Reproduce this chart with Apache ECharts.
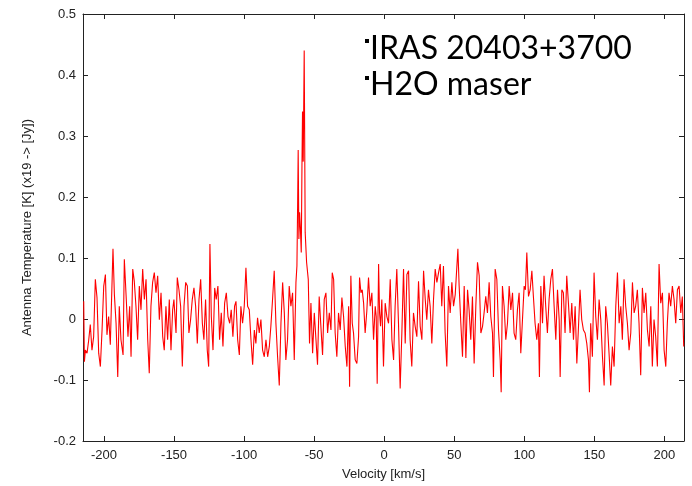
<!DOCTYPE html>
<html>
<head>
<meta charset="utf-8">
<script src="https://cdn.jsdelivr.net/npm/echarts@6/dist/echarts.min.js"></script>
<style>
html,body{margin:0;padding:0;background:#fff;}
#chart{width:692px;height:486px;}
</style>
</head>
<body>
<div id="chart"></div>
<script>
// Velocity [km/s] of each channel
const velocity = [
-214.5,-214.0,-213.3,-212.1,-210.9,-209.8,-208.6,-207.4,-206.2,-205.0,
-203.8,-202.6,-201.4,-200.2,-199.0,-197.9,-196.7,-195.5,-193.6,-192.6,
-191.4,-190.2,-189.1,-187.9,-186.4,-185.5,-184.1,-182.9,-181.7,-180.7,
-179.5,-178.4,-177.2,-176.0,-174.8,-173.6,-172.4,-171.2,-170.0,-168.8,
-167.7,-166.5,-165.3,-164.1,-162.9,-161.7,-160.5,-159.3,-158.1,-157.0,
-155.8,-154.6,-153.4,-152.2,-151.0,-150.1,-148.6,-147.7,-146.5,-145.3,
-144.1,-142.9,-141.7,-140.5,-139.4,-138.2,-137.0,-135.8,-134.6,-133.4,
-132.2,-131.0,-129.8,-128.7,-127.5,-126.3,-125.3,-124.4,-123.4,-122.2,
-121.0,-119.9,-118.7,-117.5,-116.3,-115.1,-113.9,-112.7,-111.5,-110.3,
-109.2,-108.0,-106.8,-105.8,-104.6,-103.4,-102.3,-101.1,-99.9,-98.7,
-97.5,-96.3,-95.1,-93.9,-92.7,-91.6,-90.4,-89.2,-88.0,-86.8,
-85.6,-84.4,-83.2,-82.0,-80.9,-79.7,-78.5,-77.3,-76.1,-74.9,
-73.7,-72.5,-71.3,-70.2,-69.0,-67.8,-66.6,-65.4,-64.2,-63.0,
-62.3,-61.8,-61.4,-60.9,-60.4,-59.9,-59.2,-58.7,-58.3,-57.8,
-57.1,-56.4,-55.4,-54.2,-53.3,-52.3,-51.1,-49.9,-48.7,-47.6,
-46.4,-45.2,-44.0,-42.8,-41.6,-40.4,-39.2,-38.0,-37.1,-36.1,
-35.0,-33.8,-32.6,-31.4,
-30.2,-29.0,-27.8,-26.6,-25.4,-24.7,-23.8,-22.8,-21.9,-20.7,
-19.5,-18.3,-17.6,-16.6,-15.7,-14.7,-13.6,-12.4,-11.2,-10.0,
-8.8,-7.6,-6.4,-5.7,-5.0,-4.0,-3.3,-2.6,-1.7,-0.5,
0.7,1.9,3.1,4.3,5.5,6.7,7.8,9.0,10.2,11.4,
12.6,13.8,15.0,16.2,17.4,18.5,19.7,20.9,22.1,23.3,
24.5,25.7,26.9,28.1,29.3,30.4,31.6,32.8,34.0,35.2,
36.4,37.6,38.8,40.0,41.1,42.3,43.5,44.7,45.9,47.1,
48.3,49.5,50.7,51.8,52.6,53.5,54.7,55.9,57.1,58.3,
59.5,60.6,61.8,63.0,64.2,65.4,66.6,67.8,69.0,70.2,
71.3,72.5,73.7,74.9,76.1,77.3,78.0,79.2,80.4,81.6,
82.8,83.5,84.4,85.6,86.8,88.0,89.2,90.4,91.6,92.7,
93.9,95.1,96.3,97.5,98.7,99.9,100.8,101.8,103.0,104.2,
105.4,106.5,107.7,108.9,110.1,110.8,111.8,113.0,114.1,115.3,
116.5,117.7,118.9,120.1,121.3,122.5,123.7,124.9,125.6,126.8,
127.9,129.1,130.3,131.5,132.7,133.9,135.1,136.3,137.5,138.7,
139.8,141.0,142.2,143.4,144.6,145.8,146.5,147.4,148.6,149.8,
151.0,152.2,153.4,154.6,155.8,157.0,158.1,159.3,160.5,161.7,
162.9,164.1,165.3,166.5,167.7,168.9,170.0,171.2,172.4,173.6,
174.8,176.0,177.2,178.4,179.5,180.7,181.9,183.1,184.3,185.5,
186.7,187.9,189.1,190.3,191.4,192.6,193.8,195.0,196.2,197.4,
198.6,199.8,201.0,202.1,203.3,204.5,205.7,206.9,208.1,209.3,
210.5,211.7,212.8,213.8
];

// Antenna temperature [K] at each velocity
const antennaTemp = [
0.029,-0.070,-0.051,-0.056,-0.034,-0.009,-0.051,-0.029,0.065,0.035,
-0.056,-0.078,-0.018,0.054,0.073,-0.026,0.004,-0.042,0.115,0.040,
-0.007,-0.095,0.021,-0.034,-0.059,0.098,0.032,-0.029,0.021,-0.062,
0.082,0.062,0.021,-0.034,0.054,0.015,0.082,0.032,0.065,-0.034,
-0.089,0.021,0.060,0.076,0.043,0.071,-0.001,0.043,-0.029,-0.051,
0.021,-0.034,0.032,-0.051,0.015,0.032,-0.023,0.068,0.048,0.021,
-0.078,0.021,0.060,0.054,-0.023,-0.001,0.032,0.051,0.021,-0.040,
0.032,0.065,-0.007,-0.034,0.032,-0.051,-0.078,0.123,0.004,-0.051,
0.051,0.032,0.054,-0.034,0.010,-0.045,0.026,0.043,0.004,-0.007,
0.015,-0.029,0.021,0.029,-0.034,-0.059,0.021,-0.007,0.021,0.084,
0.021,0.015,-0.034,-0.075,-0.018,-0.040,0.002,-0.023,-0.001,-0.051,
-0.062,-0.034,-0.062,-0.045,-0.012,0.032,0.079,-0.007,-0.062,-0.109,
-0.007,0.060,0.010,-0.067,-0.034,0.054,0.021,0.043,-0.067,0.060,
0.087,0.186,0.277,0.131,0.175,0.153,0.109,0.252,0.340,0.258,
0.440,0.142,0.093,0.065,-0.040,0.026,-0.056,0.010,-0.034,-0.075,
0.037,-0.012,-0.059,0.032,0.043,-0.023,0.010,-0.018,0.076,0.065,
-0.023,-0.062,0.010,-0.018,
0.035,0.004,-0.045,-0.078,0.021,-0.111,0.071,-0.007,-0.023,-0.067,
-0.073,-0.029,0.068,0.043,0.048,0.026,-0.023,0.013,0.068,0.021,
0.043,-0.034,0.021,0.004,-0.106,0.090,0.010,-0.012,0.032,-0.078,
0.026,0.004,-0.007,0.065,-0.034,-0.067,0.021,0.082,-0.007,-0.114,
-0.023,0.082,-0.040,0.073,0.079,-0.034,-0.078,0.010,-0.012,-0.029,
0.062,-0.012,-0.034,0.079,0.032,-0.001,0.048,0.021,-0.040,0.032,
0.082,0.060,0.076,0.090,0.021,0.087,-0.023,-0.078,0.054,0.010,
0.060,0.021,0.040,0.043,0.115,0.054,-0.007,-0.062,0.054,-0.064,
0.048,0.015,-0.034,0.037,-0.073,0.021,0.093,0.071,-0.023,-0.012,
0.010,0.037,0.010,0.060,0.004,-0.023,-0.095,0.082,0.065,-0.018,
-0.067,-0.120,0.054,0.021,-0.034,-0.007,0.054,0.015,0.043,-0.023,
-0.034,0.015,0.043,-0.056,-0.001,0.054,0.048,0.109,0.037,0.048,
0.079,0.037,-0.007,-0.034,-0.007,-0.095,0.054,-0.007,0.071,0.021,
-0.023,0.032,0.065,0.082,0.021,-0.034,0.048,-0.001,-0.095,0.048,
0.043,-0.023,0.071,0.026,-0.023,0.026,-0.034,0.021,-0.073,-0.012,
0.048,-0.001,-0.018,-0.023,-0.040,-0.067,-0.120,-0.007,-0.062,0.076,
0.004,-0.034,0.032,-0.001,-0.062,-0.109,0.021,-0.007,-0.056,-0.109,
-0.045,-0.078,0.021,0.076,-0.007,0.021,-0.034,0.065,0.021,-0.007,
-0.051,-0.023,0.060,0.010,0.021,0.048,-0.007,-0.092,0.051,0.010,
0.043,-0.018,-0.045,0.021,-0.078,-0.001,-0.029,-0.078,0.090,0.026,
0.043,-0.051,-0.078,-0.007,0.043,0.021,0.054,0.032,-0.007,0.048,
0.054,0.010,0.037,-0.045
];

// Axis tick labels
const velocityTicks = [-200, -150, -100, -50, 0, 50, 100, 150, 200];
const tempTicks = [-0.2, -0.1, 0, 0.1, 0.2, 0.3, 0.4, 0.5];

const titleLines = ['IRAS 20403+3700', 'H2O maser'];
const xName = 'Velocity [km/s]';
const yName = 'Antenna Temperature [K] (x19 -> [Jy])';

const seriesData = velocity.map((v, i) => [v, antennaTemp[i]]);

const chart = echarts.init(document.getElementById('chart'), null, {renderer: 'canvas'});

const labelFont = {color: '#222', fontFamily: 'Liberation Sans, Arial, sans-serif', fontSize: 13};
const frameLine = {show: true, onZero: false, lineStyle: {color: '#222', width: 1}};
const tickStyle = {show: true, inside: true, length: 5, lineStyle: {color: '#222', width: 1}};

chart.setOption({
  animation: false,
  backgroundColor: '#fff',
  grid: {left: 83, right: 8, top: 14, bottom: 44, containLabel: false},
  xAxis: [
    {
      type: 'value', min: -215, max: 214, position: 'bottom',
      name: xName, nameLocation: 'middle', nameGap: 27,
      nameTextStyle: labelFont,
      axisLine: frameLine,
      axisTick: Object.assign({customValues: velocityTicks}, tickStyle),
      axisLabel: Object.assign({customValues: velocityTicks, margin: 8}, labelFont),
      splitLine: {show: false}
    },
    {
      type: 'value', min: -215, max: 214, position: 'top',
      axisLine: frameLine,
      axisTick: Object.assign({customValues: velocityTicks}, tickStyle),
      axisLabel: {show: false},
      splitLine: {show: false}
    }
  ],
  yAxis: [
    {
      type: 'value', min: -0.2, max: 0.5, interval: 0.1, position: 'left',
      name: yName, nameLocation: 'middle', nameGap: 49, nameRotate: 90,
      nameTextStyle: labelFont,
      axisLine: frameLine,
      axisTick: Object.assign({customValues: tempTicks}, tickStyle),
      axisLabel: Object.assign({
        customValues: tempTicks, margin: 7,
        formatter: v => (Math.abs(v) < 1e-9 ? '0' : (+v).toFixed(1))
      }, labelFont),
      splitLine: {show: false}
    },
    {
      type: 'value', min: -0.2, max: 0.5, interval: 0.1, position: 'right',
      axisLine: frameLine,
      axisTick: Object.assign({customValues: tempTicks}, tickStyle),
      axisLabel: {show: false},
      splitLine: {show: false}
    }
  ],
  series: [{
    type: 'line',
    xAxisIndex: 0, yAxisIndex: 0,
    data: seriesData,
    showSymbol: false,
    symbol: 'none',
    lineStyle: {color: '#ff0000', width: 1.1},
    itemStyle: {color: '#ff0000'},
    silent: true
  }],
  graphic: [
    {type: 'rect', shape: {x: 365, y: 39, width: 4, height: 4}, style: {fill: '#000'}},
    {type: 'rect', shape: {x: 365, y: 76, width: 4, height: 4}, style: {fill: '#000'}},
    {type: 'text', x: 370, y: 49, style: {text: titleLines[0], font: '32px Lato', fill: '#000', verticalAlign: 'middle'}},
    {type: 'text', x: 370, y: 85, style: {text: titleLines[1], font: '32px Lato', fill: '#000', verticalAlign: 'middle'}}
  ]
});
</script>
</body>
</html>
